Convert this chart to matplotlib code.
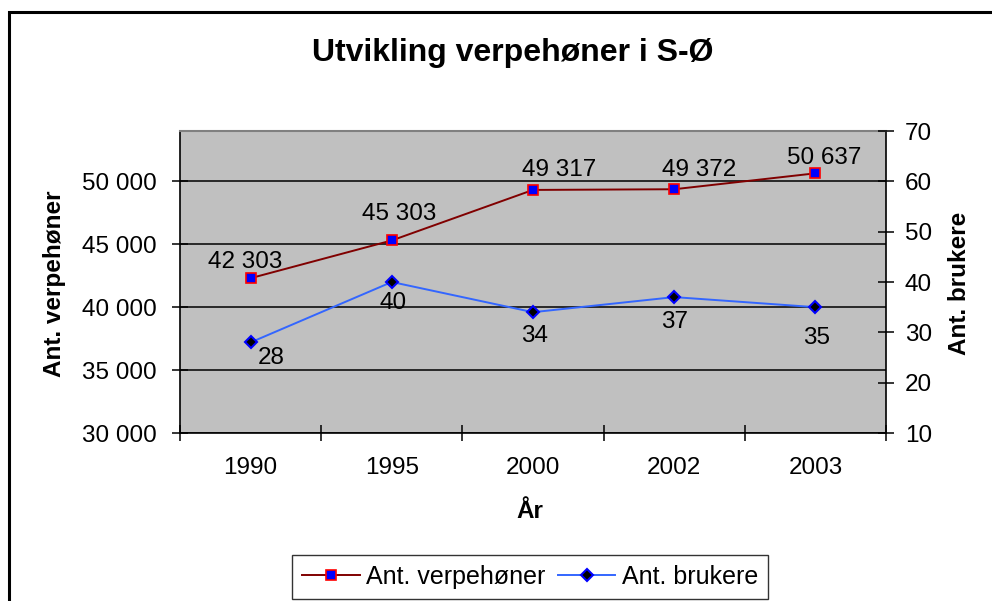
import matplotlib.pyplot as plt
from matplotlib.patches import Rectangle
from matplotlib.ticker import FuncFormatter

plt.rcParams['font.family'] = ['Liberation Sans', 'DejaVu Sans']

# Data
years = ['1990', '1995', '2000', '2002', '2003']
verpehoner = [42303, 45303, 49317, 49372, 50637]
brukere = [28, 40, 34, 37, 35]

# label offsets (in points) as placed in the original
red_offsets = [(-4, 12), (5, 19), (19, 14), (18, 14), (6, 11)]
blue_offsets = [(15, -11), (1, -15), (1, -17), (0, -18), (1, -22)]

fig = plt.figure(figsize=(9.92, 6.01), dpi=100)
ax = fig.add_axes([180 / 992, 1 - 433 / 601, 706 / 992, 302 / 601])
ax.set_facecolor('#C0C0C0')

x = list(range(len(years)))

ax.plot(x, verpehoner, color='#800000', lw=1.4, marker='s', markersize=7,
        markerfacecolor='#0000FF', markeredgecolor='#FF0000', markeredgewidth=1.2,
        label='Ant. verpehøner', zorder=3)

ax.set_xlim(-0.5, len(years) - 0.5)
ax.set_ylim(30000, 54000)
ax.set_yticks([30000, 35000, 40000, 45000, 50000])
ax.yaxis.set_major_formatter(FuncFormatter(lambda v, p: f'{int(v):,}'.replace(',', ' ')))
ax.set_xticks([i + 0.5 for i in range(-1, len(years))], minor=False)
ax.set_xticklabels([])
ax.set_xticks(x, minor=True)
ax.set_xticklabels(years, minor=True)
ax.tick_params(axis='x', which='minor', length=0, pad=17, labelsize=17.5)
ax.tick_params(axis='x', which='major', direction='inout', length=11, width=1.1)
ax.tick_params(axis='y', direction='inout', length=11, width=1.1, pad=11, labelsize=17.5)
ax.grid(axis='y', color='black', lw=1.1)
ax.set_axisbelow(True)

for s in ['left', 'bottom', 'right']:
    ax.spines[s].set_color('black')
    ax.spines[s].set_linewidth(1.2)
ax.spines['top'].set_color('#808080')
ax.spines['top'].set_linewidth(1.5)

for xi, v, off in zip(x, verpehoner, red_offsets):
    ax.annotate(f'{v:,}'.replace(',', ' '), (xi, v), xytext=off, textcoords='offset points',
                ha='center', va='center', fontsize=17.5, zorder=5)

ax2 = ax.twinx()
ax2.plot(x, brukere, color='#3366FF', lw=1.4, marker='D', markersize=6,
         markerfacecolor='black', markeredgecolor='#0000FF', markeredgewidth=1.5,
         label='Ant. brukere', zorder=3)
ax2.set_ylim(10, 70)
ax2.set_yticks(range(10, 71, 10))
ax2.tick_params(axis='y', direction='inout', length=11, width=1.1, pad=8, labelsize=17.5)
for s in ax2.spines.values():
    s.set_visible(False)

for xi, v, off in zip(x, brukere, blue_offsets):
    ax2.annotate(str(v), (xi, v), xytext=off, textcoords='offset points',
                 ha='center', va='center', fontsize=17.5, zorder=5)

# titles and axis labels
fig.text(513 / 992, 1 - 53 / 601, 'Utvikling verpehøner i S-Ø', ha='center', va='center',
         fontsize=23, fontweight='bold')
fig.text(54 / 992, 1 - 284 / 601, 'Ant. verpehøner', rotation=90, ha='center', va='center',
         fontsize=17.5, fontweight='bold')
fig.text(960 / 992, 1 - 283 / 601, 'Ant. brukere', rotation=90, ha='center', va='center',
         fontsize=17.5, fontweight='bold')
fig.text(530 / 992, 1 - 512 / 601, 'År', ha='center', va='center',
         fontsize=17.5, fontweight='bold')

h1, l1 = ax.get_legend_handles_labels()
h2, l2 = ax2.get_legend_handles_labels()
leg = fig.legend(h1 + h2, l1 + l2, loc='center', bbox_to_anchor=(530 / 992, 1 - 577 / 601),
                 ncol=2, fontsize=18, frameon=True, fancybox=False, handlelength=2.3,
                 handletextpad=0.25, columnspacing=0.5, borderpad=0.4)
leg.get_frame().set_edgecolor('black')
leg.get_frame().set_linewidth(1.0)

# outer chart frame
fig.patches.append(Rectangle((9 / 992, -0.1), 1.2, 1.1 - 12 / 601, transform=fig.transFigure,
                             fill=False, edgecolor='black', lw=2.2))

fig.savefig('out.png', dpi=100)
